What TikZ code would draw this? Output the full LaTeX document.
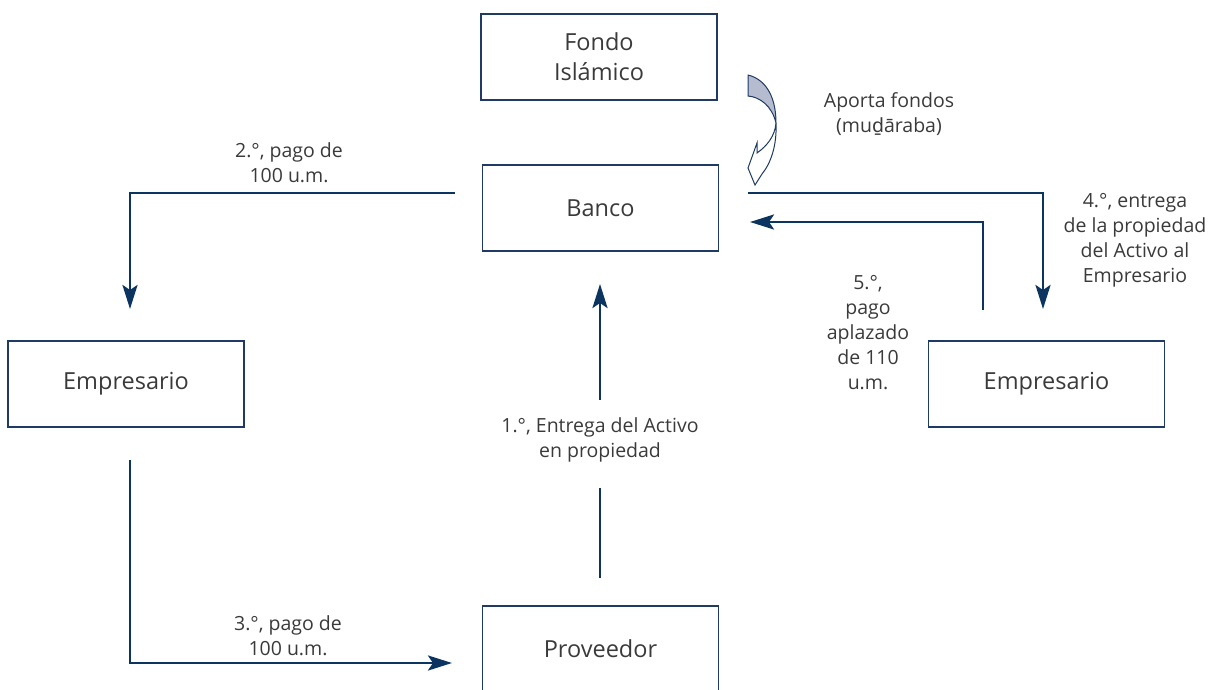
\documentclass[tikz,border=0pt]{standalone}
\usepackage{fontspec}
\setmainfont{Open Sans}
\newfontfamily\notofont{Noto Sans}
\usetikzlibrary{arrows.meta,calc}
\definecolor{navy}{HTML}{0B3461}
\definecolor{boxline}{HTML}{1F3A64}
\definecolor{txt}{HTML}{3A3A3A}
\definecolor{shade}{HTML}{B5BCD0}
\tikzset{
  box/.style={draw=boxline,line width=1.2pt,minimum width=236pt,minimum height=86pt,inner sep=0pt,
    font=\fontsize{23.5}{30}\selectfont,text=txt,align=center},
  lbl/.style={font=\fontsize{19.5}{25}\selectfont,text=txt,align=center,inner sep=2pt},
  arr/.style={draw=navy,line width=2.8pt,-{Stealth[length=24pt,width=15pt,inset=5pt]}},
  seg/.style={draw=navy,line width=2.8pt},
}
\begin{document}
\begin{tikzpicture}[x=1pt,y=-1pt]
\useasboundingbox (0,0) rectangle (1210,690);
% boxes
\node[box] (fondo) at (599,57) {Fondo\\Islámico};
\node[box] (banco) at (600.5,208) {Banco};
\node[box] (empL) at (126,384) {Empresario};
\node[box] (empR) at (1046.5,384) {Empresario};
\node[box] (prov) at (600.5,649) {Proveedor};
% coordinates
\coordinate (a2s) at (455,193);
\coordinate (a2c) at (130,193);
\coordinate (a2e) at (130,309);
\coordinate (a3s) at (130,460);
\coordinate (a3c) at (130,663);
\coordinate (a3e) at (452,663);
\coordinate (a1s) at (600,578);
\coordinate (a1b) at (600,488);
\coordinate (a1t) at (600,400);
\coordinate (a1e) at (600,284);
\coordinate (a4s) at (748,193);
\coordinate (a4c) at (1043,193);
\coordinate (a4e) at (1043,309);
\coordinate (a5s) at (983,310);
\coordinate (a5c) at (983,222);
\coordinate (a5e) at (750,222);
% arrows
\draw[arr] (a2s) -- (a2c) -- (a2e);
\draw[arr] (a3s) -- (a3c) -- (a3e);
\draw[seg] (a1s) -- (a1b);
\draw[arr] (a1t) -- (a1e);
\draw[arr] (a4s) -- (a4c) -- (a4e);
\draw[arr] (a5s) -- (a5c) -- (a5e);
% curved block arrow
\draw[boxline,line width=1pt,fill=shade,line join=round]
  (748,75) .. controls (768,80) and (776,100) .. (776,123)
  .. controls (772,106) and (760,97) .. (748,96) -- cycle;
\draw[boxline,line width=1pt,fill=white,line join=miter]
  (776,123) .. controls (777,145) and (771,163) .. (762,174)
  -- (755,185) -- (748,168) -- (757,143) -- (757,153)
  .. controls (767,146) and (775,136) .. (776,123);
% labels
\node[lbl] (l2) at (289,163) {2.°, pago de\\100 u.m.};
\node[lbl] (l3) at (288,636) {3.°, pago de\\100 u.m.};
\node[lbl] (l1) at (600,440) {1.°, Entrega del Activo\\en propiedad};
\node[lbl] (lf) at (889,114) {Aporta fondos\\(mu{\notofont ḏ}āraba)};
\node[lbl] (l4) at (1135,240) {4.°, entrega\\de la propiedad\\del Activo al\\Empresario};
\node[lbl] (l5) at (868,333) {5.°,\\pago\\aplazado\\de 110\\u.m.};
\end{tikzpicture}
\end{document}
